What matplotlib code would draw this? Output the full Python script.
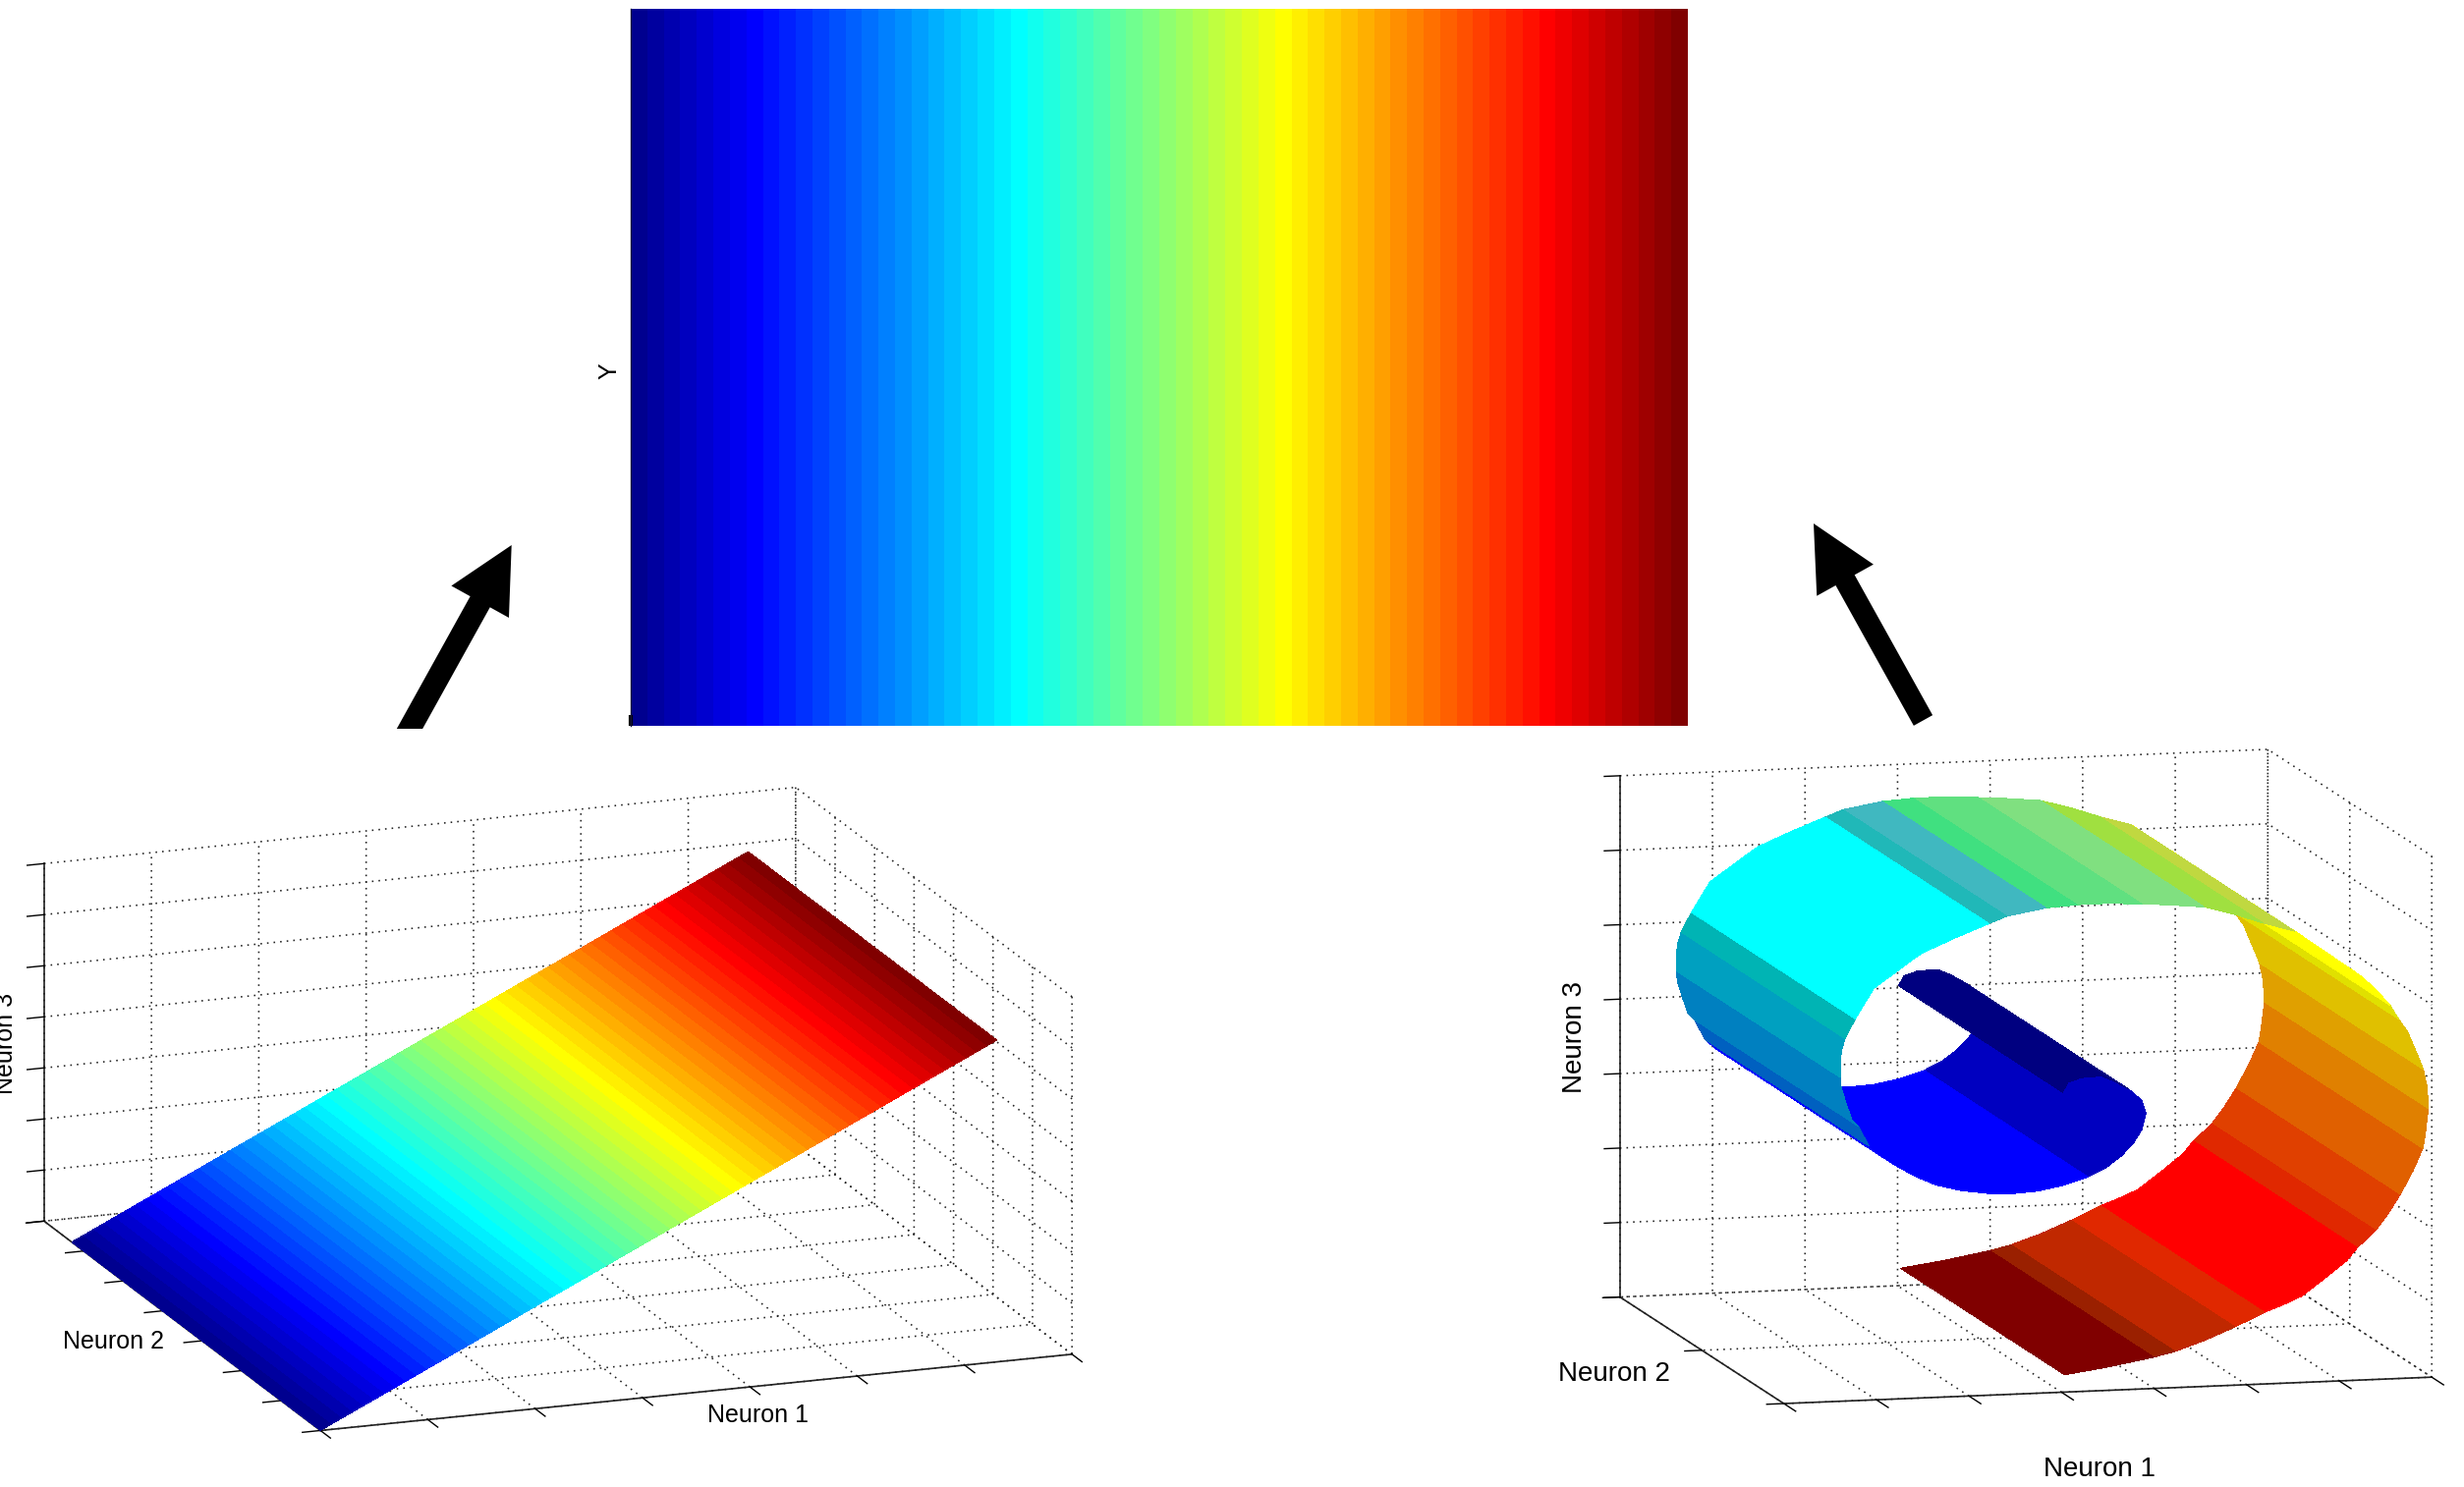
import numpy as np
import matplotlib
matplotlib.use("Agg")
import matplotlib.pyplot as plt
from matplotlib.colors import ListedColormap
from matplotlib.patches import FancyArrow, Rectangle
from mpl_toolkits.mplot3d import proj3d

W, H = 2508, 1514

# ---- data -------------------------------------------------------------
n_colours = 64
axis_label_neuron = ["Neuron 1", "Neuron 2", "Neuron 3"]
centre_ylabel = "Y"

# flat sheet (left panel): runs along Neuron 1 and Neuron 3 together
sheet_range = [0.0, 6.3]
sheet_width = [0.0, 6.3]
left_ticks_x = [0, 1, 2, 3, 4, 5, 6, 7]
left_ticks_y = [0, 1, 2, 3, 4, 5, 6, 7]
left_ticks_z = [0, 1, 2, 3, 4, 5, 6, 7]

# rolled sheet (right panel): cross-section
roll_x = [0.06, 0.33, 1.06, 2.15, 2.90, 3.61, 4.34, 4.56, 4.34, 3.89, 3.24, 2.44, 1.43, 0.12,
          -1.31, -2.67, -4.03, -5.43, -6.77, -7.94, -8.95, -9.78, -10.41, -10.96, -11.32,
          -11.63, -11.90, -11.95, -11.95, -11.87, -11.69, -11.14, -10.14, -8.81, -8.10, -7.49,
          -5.75, -3.91, -2.95, -0.83, 0.84, 2.60, 4.35, 5.60, 7.72, 9.39, 10.89, 12.60, 14.43,
          16.18, 17.00, 17.76, 18.20, 18.70, 19.30, 19.55, 19.75, 19.82, 19.74, 19.65, 19.52,
          18.985, 18.31, 17.63, 16.97, 15.98, 15.40, 14.30, 13.00, 12.00, 10.96, 9.37, 7.75,
          6.13, 4.98, 2.58, 0.17]
roll_z = [5.14, 5.78, 6.07, 6.13, 5.71, 5.18, 4.38, 3.49, 2.41, 1.54, 0.71, -0.01, -0.62, -1.11,
          -1.43, -1.53, -1.44, -1.18, -0.75, -0.08, 0.67, 1.37, 2.06, 3.40, 3.86, 4.95, 6.07,
          6.74, 7.83, 8.60, 9.34, 10.63, 12.62, 13.78, 14.40, 14.89, 15.79, 16.66, 17.11,
          17.56, 17.69, 17.70, 17.56, 17.45, 17.19, 16.60, 15.95, 15.32, 13.69, 12.12, 11.15,
          10.07, 9.15, 8.25, 6.46, 5.69, 4.47, 3.05, 2.28, 1.33, 0.39, -1.09, -2.63, -3.935,
          -5.00, -6.10, -6.95, -8.00, -9.19, -9.72, -10.19, -11.09, -11.90, -12.57, -12.90,
          -13.42, -13.84]
roll_width = [0, 20]
band_last_point = [5, 12, 22, 23, 27, 30, 31, 37, 38, 39, 40, 42, 44, 46, 47, 51, 52, 55, 57, 60,
                   62, 64, 65, 70, 71, 73, 74, 76]
band_colours = ["#000080", "#0000C0", "#0000FF", "#0060C0", "#0080C0", "#00A0C0", "#00B4B4",
                "#00FFFF", "#20B8B8", "#40B8C0", "#40E080", "#60E080", "#80E080", "#A0E040",
                "#C0D840", "#FFFF00", "#E0E000", "#E0C000", "#E0A000", "#E08000", "#E06000",
                "#E04000", "#E02800", "#FF0000", "#E02800", "#C02800", "#9A2000", "#800000"]
right_ticks_x = [-15, -10, -5, 0, 5, 10, 15, 20]
right_ticks_y = [0, 10, 20]
right_ticks_z = [-15, -10, -5, 0, 5, 10, 15, 20]

# ---- colour map (64-level jet) ------------------------------------------
idx = np.arange(1, n_colours + 1)
xp = [1, 8, 24, 40, 56, 64]
jet64 = ListedColormap(np.column_stack([
    np.interp(idx, xp, [0, 0, 0, 1, 1, 0.5]),
    np.interp(idx, xp, [0, 0, 1, 1, 0, 0]),
    np.interp(idx, xp, [0.5625, 1, 1, 0, 0, 0]),
]))

plt.rcParams.update({
    "font.family": ["Liberation Sans", "DejaVu Sans"],
    "grid.color": "#222222",
    "grid.linewidth": 1.15,
    "grid.linestyle": (0, (1, 3.2)),
    "axes3d.automargin": False,
})

fig = plt.figure(figsize=(W / 100, H / 100), dpi=100, facecolor="white")


def rect(x0, y0, x1, y1):
    return [x0 / W, 1 - y1 / H, (x1 - x0) / W, (y1 - y0) / H]


def ptext(x, y, s, size, **kw):
    fig.text(x / W, 1 - y / H, s, fontsize=size, color="k", ha=kw.pop("ha", "center"),
             va="center", **kw)


def style_3d(ax, xt, yt, zt, xl, yl, zl, tick_out):
    ax.set_proj_type("ortho")
    ax.set_facecolor("none")
    ax.set_xlim(*xl)
    ax.set_ylim(*yl)
    ax.set_zlim(*zl)
    ax.set_xticks(xt)
    ax.set_yticks(yt)
    ax.set_zticks(zt)
    ax.set_xticklabels([])
    ax.set_yticklabels([])
    ax.set_zticklabels([])
    for axis, out in zip((ax.xaxis, ax.yaxis, ax.zaxis), tick_out):
        axis.set_pane_color((1, 1, 1, 0))
        axis.pane.set_edgecolor("none")
        axis.line.set_color("#222222")
        axis.line.set_linewidth(1.2)
        axis._axinfo["tick"].update(inward_factor=out, outward_factor=0.0)
        axis._axinfo["tick"]["linewidth"] = {True: 1.0, False: 1.0}
        axis._axinfo["tick"]["color"] = "#222222"


def fit(ax, a_data, b_data, a_px, b_px):
    """Scale and place the square 3D axes so two box corners land on given pixels."""
    for _ in range(3):
        ax.apply_aspect()
        M = ax.get_proj()
        pts = []
        for d in (a_data, b_data):
            xs, ys, _z = proj3d.proj_transform(*d, M)
            pts.append(ax.transData.transform((xs, ys)))
        pa, pb = np.array(pts)
        ta = np.array([a_px[0], H - a_px[1]], float)
        tb = np.array([b_px[0], H - b_px[1]], float)
        ratio = np.linalg.norm(tb - ta) / np.linalg.norm(pb - pa)
        box = ax.get_position(original=True)
        side = box.width * W
        cx = box.x0 * W + side / 2
        cy = box.y0 * H + box.height * H / 2
        new_mid_now = (pa + pb) / 2
        target_mid = (ta + tb) / 2
        cx2 = target_mid[0] + (cx - new_mid_now[0]) * ratio
        cy2 = target_mid[1] + (cy - new_mid_now[1]) * ratio
        side2 = side * ratio
        ax.set_position([(cx2 - side2 / 2) / W, (cy2 - side2 / 2) / H, side2 / W, side2 / H])


# ---- centre panel -------------------------------------------------------
axc = fig.add_axes(rect(642, 9, 1718, 739))
levels = np.arange(n_colours).reshape(1, -1)
axc.pcolormesh(np.arange(n_colours + 1), [0, 1], levels, cmap=jet64, vmin=0, vmax=n_colours - 1,
               shading="flat", antialiased=False, linewidth=0)
axc.set_xlim(0, n_colours)
axc.set_ylim(0, 1)
axc.set_xticks([0])
axc.set_xticklabels([])
axc.set_yticks([])
axc.tick_params(axis="x", direction="in", length=8, width=3, color="k")
for side, sp in axc.spines.items():
    sp.set_visible(side == "left")
axc.spines["left"].set_color("#101040")
axc.spines["left"].set_linewidth(1.0)
ptext(620, 378, centre_ylabel, 18, rotation=90)

# ---- left panel ---------------------------------------------------------
axl = fig.add_subplot(projection="3d", position=rect(0, 780, 740, 1514), computed_zorder=True)
axl.view_init(elev=16.1, azim=-110.1)
axl.set_box_aspect((817, 821, 380))
style_3d(axl, left_ticks_x, left_ticks_y, left_ticks_z, (0, 7), (0, 7), (0, 7), (0.45, 0.3, 0.28))
axl.zaxis.set_ticks_position("upper")
edges = np.linspace(sheet_range[0], sheet_range[1], n_colours + 1)
SX = np.vstack([edges, edges])
SY = np.vstack([np.full_like(edges, sheet_width[0]), np.full_like(edges, sheet_width[1])])
SZ = SX.copy()
sheet_faces = jet64(np.arange(n_colours))[None, :, :]
axl.plot_surface(SX, SY, SZ, facecolors=sheet_faces, shade=False, rstride=1, cstride=1,
                 linewidth=0, antialiased=False)
fig.canvas.draw()
fit(axl, (0, 0, 0), (7, 7, 7), (325, 1455.6), (811, 802.5))
ptext(771, 1441, axis_label_neuron[0], 18)
ptext(115, 1366, axis_label_neuron[1], 18)
ptext(18, 1062, axis_label_neuron[2], 18, rotation=90, ha="right")

# ---- right panel --------------------------------------------------------
axr = fig.add_subplot(projection="3d", position=rect(1580, 740, 2508, 1514), computed_zorder=True)
axr.view_init(elev=9.37, azim=-104.06)
axr.set_box_aspect((682.5, 689.6, 540))
style_3d(axr, right_ticks_x, right_ticks_y, right_ticks_z, (-15, 20), (0, 20), (-15, 20),
         (0.9, 0.33, 0.3))
axr.zaxis.set_ticks_position("upper")
rx = np.array(roll_x)
rz = np.array(roll_z)
RX = np.vstack([rx, rx])
RZ = np.vstack([rz, rz])
RY = np.vstack([np.full_like(rx, roll_width[0]), np.full_like(rx, roll_width[1])])
seg_colours = []
start = 0
for last, col in zip(band_last_point, band_colours):
    seg_colours += [matplotlib.colors.to_rgba(col)] * (last - start)
    start = last
roll_faces = np.array(seg_colours)[None, :, :]
axr.plot_surface(RX, RY, RZ, facecolors=roll_faces, shade=False, rstride=1, cstride=1,
                 linewidth=0, antialiased=False)
fig.canvas.draw()
fit(axr, (-15, 0, -15), (20, 20, 20), (1817, 1430), (2307, 762))
ptext(2137, 1496, axis_label_neuron[0], 20)
ptext(1643, 1399, axis_label_neuron[1], 20)
ptext(1603, 1056, axis_label_neuron[2], 20, rotation=90)

# ---- arrows -------------------------------------------------------------
ov = fig.add_axes([0, 0, 1, 1], facecolor="none", zorder=10)
ov.set_xlim(0, W)
ov.set_ylim(H, 0)
ov.axis("off")
la = FancyArrow(407, 760, 520.7 - 407, 555 - 760, width=23, head_width=67, head_length=66,
                length_includes_head=True, fc="k", ec="none")
ov.add_patch(la)
la.set_clip_path(Rectangle((0, 0), W, 742, transform=ov.transData))
ov.add_patch(FancyArrow(1957.5, 733.5, 1846 - 1957.5, 533 - 733.5, width=22, head_width=66,
                        head_length=66, length_includes_head=True, fc="k", ec="none"))

fig.savefig("out.png", dpi=100, facecolor="white")
